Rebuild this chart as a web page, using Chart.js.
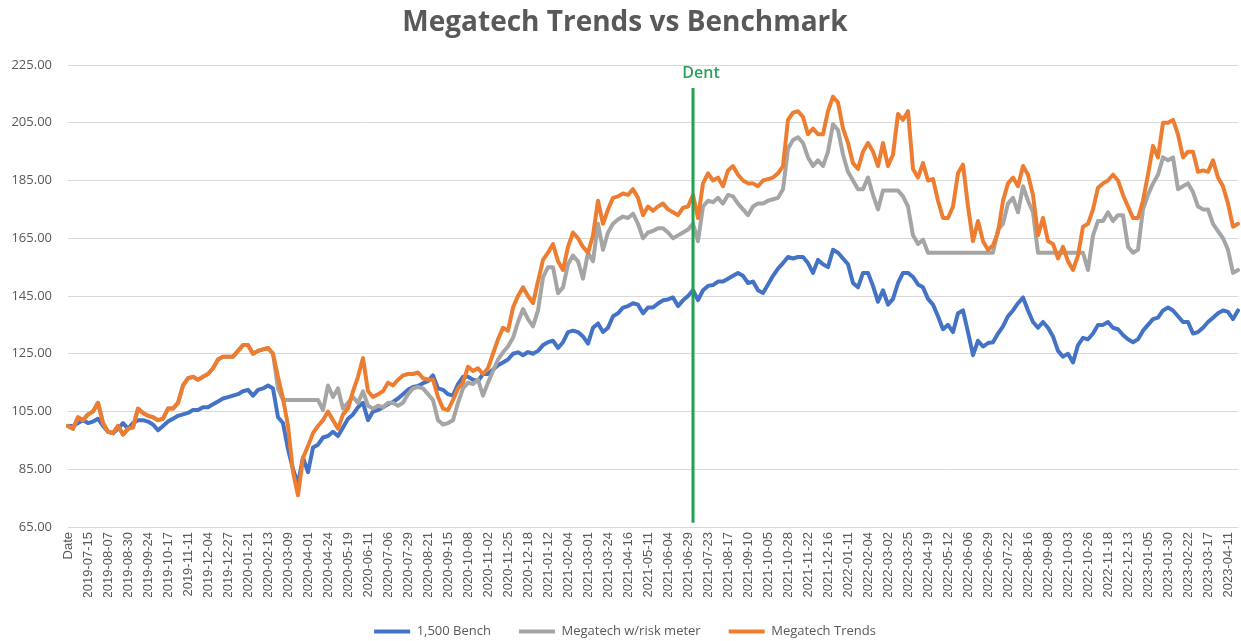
<!DOCTYPE html>
<html>
<head>
<meta charset="utf-8">
<script src="https://cdn.jsdelivr.net/npm/chart.js@4.4.0/dist/chart.umd.min.js"></script>
<style>
  html, body { margin: 0; padding: 0; background: #ffffff; }
  #wrap { width: 1241px; height: 641px; position: relative; }
</style>
</head>
<body>
<div id="wrap"><canvas id="c"></canvas></div>
<script>
// ---- Tick labels (one every 4 samples) ----
const dateTicks = [
  "Date","2019-07-15","2019-08-07","2019-08-30","2019-09-24","2019-10-17","2019-11-11","2019-12-04","2019-12-27",
  "2020-01-21","2020-02-13","2020-03-09","2020-04-01","2020-04-24","2020-05-19","2020-06-11","2020-07-06","2020-07-29",
  "2020-08-21","2020-09-15","2020-10-08","2020-11-02","2020-11-25","2020-12-18","2021-01-12","2021-02-04","2021-03-01",
  "2021-03-24","2021-04-16","2021-05-11","2021-06-04","2021-06-29","2021-07-23","2021-08-17","2021-09-10","2021-10-05",
  "2021-10-28","2021-11-22","2021-12-16","2022-01-11","2022-02-04","2022-03-02","2022-03-25","2022-04-19","2022-05-12",
  "2022-06-06","2022-06-29","2022-07-22","2022-08-16","2022-09-08","2022-10-03","2022-10-26","2022-11-18","2022-12-13",
  "2023-01-05","2023-01-30","2023-02-22","2023-03-17","2023-04-11"
];
const samplesPerTick = 4;

// ---- Series values ----
const benchValues = [
  100,100,101,102,101,101.5,102.5,100,98,97.5,99,101,99,101,102,102,101.5,100.5,98.5,100,
  101.5,102.5,103.5,104,104.5,105.5,105.5,106.5,106.5,107.5,108.5,109.5,110,110.5,111,112,112.5,110.5,112.5,113,
  114,113,103,101,92,85,80,89,84,92.5,93.5,96,96.5,98,96.5,99.5,102.5,104,106.5,108,
  102,105,105.5,106.5,107.5,108.3,109.5,111,112.5,113.5,113.8,114.8,115.5,117.5,113,112.5,111,110.5,114.5,117,
  117,116,115.5,118,118,119.5,121,122,123,125,125.5,124.5,125.6,125,126,128,129,129.5,127,129,
  132.5,133,132.5,131,128.5,134,135.5,132.5,134,138,139,141,141.5,142.5,142,139,141,141,142.4,143.5,
  143.8,144.5,141.5,143.5,145,147,143.6,147,148.5,148.8,150,150,151,152,153,152,149.5,150,147,146,
  149,152,154.5,156.4,158.5,158,158.5,158.5,156.4,153,157.5,156,155,161,160,158,156,149.5,148,153,
  153,148.5,143,147,142,144,149.5,153,153,151.6,149,148,144,142,138,133.5,135,132.5,139,140,
  132.5,124.5,129.5,127.5,128.7,129,132,134.5,138,140,142.5,144.5,140,136,134,136,134,131,126,124,
  125,122,128,130.5,130,132,135,135,136,134,133.5,131.5,130,129,130,133,135,137,137.5,140,
  141,140,138,136,136,132,132.5,134,136,137.5,139,140,139.5,137,140
];
const riskMeterValues = [
  100,99,103,102,104,105,108,101,98,97.5,100,97,99,99.5,106,104.5,103.5,103,102,102.5,
  106,106,108,114,116.5,117,116,117,118,120,123,124,124,124,126,128,128,125,126,126.5,
  127,125,113,109,109,109,109,109,109,109,109,105.5,114,110,113,106,108,110,108,112,
  107,106,107,106.5,108,108,107,108,111,113,113.5,113,111,109,102,100.5,101,102,108,113,
  115,114.5,116,110.5,115,119,123,125.5,127.5,130.5,136,140.5,137,134.5,140,151.5,155,155,146,148,
  156,159,157,151,160,157,170,161,167,170,171.5,172.5,172,173.5,170,165,167,167.5,168.5,168.5,
  167,165,166,167,168,170,164,176,178,177.5,179,177,180,179.5,177,175,173,176,177,177,
  178,178.5,179,182,196,199,200,198,193,190,192,190,195,204.5,202.5,194,188,185,182,182,
  186,180,175,181.5,181.5,181.5,181.5,179.5,176,166,163,164.5,160,160,160,160,160,160,160,160,
  160,160,160,160,160,160,168,170,177,179,174,183,178,174,160,160,160,160,160,160,
  160,160,160,160,154,166,171,171,174,171,173,173,162,160,161,175,180,184,187,193,
  192,193,182,183,184,181,176,175,175,170,167.5,165,161,153,154
];
const trendsValues = [
  100,99,103,102,104,105,108,101,98,97.5,100,97,99,99.5,106,104.5,103.5,103,102,102.5,
  106,106,108,114,116.5,117,116,117,118,120,123,124,124,124,126,128,128,125,126,126.5,
  127,125,117,109.5,100,84,76,89,93,97.5,100,102,105,102,99,104,106,112,117,123.5,
  112,110,111,112,115,114,116,117.5,118,118,118.5,116.5,116,116,110,106,105.5,109,113,115,
  120.5,119,120,118,120,125,130,134,133,141,145,148,145,142.5,150,157.5,160,163,157,154,
  162,167,165,162,160,166,178,170,175,179,179.5,180.5,180,182,179,173,176,174.5,176,177,
  175,174,173,175.5,176,180,172,184,187.5,185,186,183,188.5,190,187,185,184,184,183,185,
  185.5,186,187.5,190,206,208.5,209,207,201,203,201,201,209,214,212,203,198,191,189,195,
  198,195,190,198,190,194,208,206,209,189,186,191,185,185.5,178,172,172,176,187.5,190.5,
  176,164,171,164,161,162.5,167,178,184,186,183,190,187,180,166,172,164,163,158,162,
  157,154,159,169,170,175,182.5,184,185,187,185,180,176,172,172,178,187,197,193,205,
  205,206,201,193,195,195,188,188.5,188,192,186,183,177,169,170
];

const seriesNames = ["1,500 Bench", "Megatech w/risk meter", "Megatech Trends"];
const seriesColors = ["#4472C4", "#A5A5A5", "#ED7D31"];
const yMin = 65, yMax = 225, yStep = 20;

// Vertical "Dent" marker (category index and value range)
const dentIndex = 125;
const dentFrom = 66.5;
const dentTo = 217;
const dentText = "Dent";

const categories = benchValues.map((_, i) =>
  i % samplesPerTick === 0 && dateTicks[i / samplesPerTick] !== undefined ? dateTicks[i / samplesPerTick] : "");

const dentPlugin = {
  id: "dentMarker",
  afterDatasetsDraw(chart) {
    const { ctx, scales: { x, y } } = chart;
    const px = x.getPixelForValue(dentIndex);
    const top = y.getPixelForValue(dentTo);
    const bottom = y.getPixelForValue(dentFrom);
    ctx.save();
    ctx.strokeStyle = "#1FA34E";
    ctx.lineWidth = 3;
    ctx.beginPath();
    ctx.moveTo(px, top);
    ctx.lineTo(px, bottom);
    ctx.stroke();
    ctx.fillStyle = "#2AA35A";
    ctx.font = '600 16px "Open Sans"';
    ctx.textAlign = "center";
    ctx.textBaseline = "middle";
    ctx.fillText(dentText, px + 8, top - 15);
    ctx.restore();
  }
};

Chart.defaults.font.family = '"Open Sans", "Liberation Sans", sans-serif';
Chart.defaults.color = "#595959";

const valuesList = [benchValues, riskMeterValues, trendsValues];
const datasets = valuesList.map((vals, k) => ({
  label: seriesNames[k],
  data: vals,
  borderColor: seriesColors[k],
  backgroundColor: seriesColors[k],
  borderWidth: 4,
  pointRadius: 0,
  pointHoverRadius: 0,
  tension: 0,
  fill: false,
  borderJoinStyle: "round",
  borderCapStyle: "round",
  order: 3 - k
}));

new Chart(document.getElementById("c"), {
  type: "line",
  data: { labels: categories, datasets },
  plugins: [dentPlugin],
  options: {
    responsive: true,
    maintainAspectRatio: false,
    animation: false,
    layout: { padding: { left: 12, right: 3, top: 0, bottom: 0 } },
    plugins: {
      title: {
        display: true,
        text: "Megatech Trends vs Benchmark",
        color: "#595959",
        font: { size: 28, weight: "bold", family: '"Open Sans", sans-serif' },
        padding: { top: 6, bottom: 25.4 }
      },
      legend: {
        display: true,
        position: "bottom",
        maxHeight: 44,
        labels: {
          boxWidth: 36,
          boxHeight: 4,
          padding: 28,
          color: "#595959",
          font: { size: 13 },
          sort: (a, b) => a.datasetIndex - b.datasetIndex,
          generateLabels: (chart) =>
            Chart.defaults.plugins.legend.labels.generateLabels(chart).map(l => ({
              ...l, lineWidth: 0, fillStyle: l.strokeStyle
            }))
        }
      },
      tooltip: { enabled: false }
    },
    scales: {
      x: {
        type: "category",
        grid: { display: false, drawTicks: false },
        border: { display: false },
        afterFit(scale) { scale.height = 70; scale.paddingRight = 0; scale.paddingLeft = 0; },
        ticks: {
          autoSkip: false,
          minRotation: 90,
          maxRotation: 90,
          padding: 5,
          color: "#595959",
          font: { size: 13, family: '"Liberation Sans", Arial, sans-serif' }
        }
      },
      y: {
        min: yMin,
        max: yMax,
        grid: { color: "#D9D9D9", lineWidth: 1, drawTicks: false },
        border: { display: false },
        afterFit(scale) { scale.width = 56; },
        ticks: {
          stepSize: yStep,
          padding: 16,
          color: "#595959",
          font: { size: 13 },
          callback: (v) => Number(v).toFixed(2)
        }
      }
    }
  }
});
</script>
</body>
</html>
